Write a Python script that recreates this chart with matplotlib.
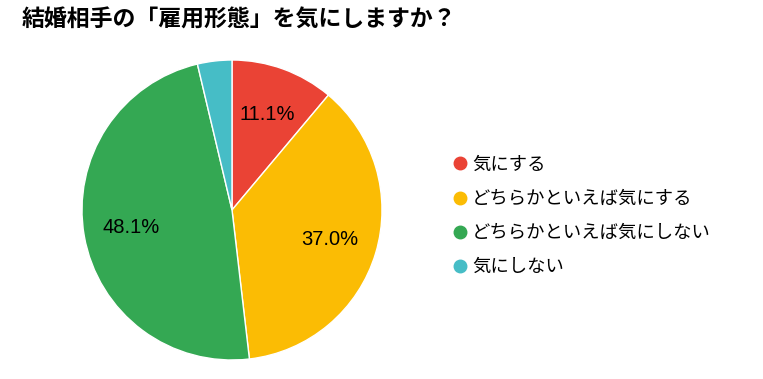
import matplotlib
matplotlib.use("Agg")
import matplotlib.pyplot as plt
from matplotlib.lines import Line2D

plt.rcParams['font.family'] = ['Noto Sans CJK JP', 'DejaVu Sans']

title = "結婚相手の「雇用形態」を気にしますか？"
categories = ["気にする", "どちらかといえば気にする", "どちらかといえば気にしない", "気にしない"]
values = [11.1, 37.0, 48.1, 3.7]
colors = ["#EA4335", "#FBBC04", "#34A853", "#46BDC6"]

fig = plt.figure(figsize=(7.63, 3.79), dpi=100)
ax = fig.add_axes([82/763, 19/379, 300/763, 300/379])

def fmt(p):
    return f"{p:.1f}%" if p > 5 else ""

wedges, texts, autotexts = ax.pie(
    values, colors=colors, startangle=90, counterclock=False,
    autopct=fmt, pctdistance=0.68, radius=1,
    wedgeprops=dict(edgecolor="white", linewidth=1),
    textprops=dict(fontsize=14.5, family=['Liberation Sans', 'DejaVu Sans'], color="black"))
ax.set_xlim(-1, 1)
ax.set_ylim(-1, 1)
ax.set_aspect('equal')
ax.axis('off')

fig.text(22/763, 1 - 20/379, title, fontsize=16.5, fontweight='bold', va='center', ha='left')

handles = [Line2D([0], [0], marker='o', linestyle='none', markersize=9,
                  markerfacecolor=c, markeredgecolor=c) for c in colors]
fig.legend(handles, categories, loc='center left', bbox_to_anchor=(442/763, 1 - 216/379),
           frameon=False, fontsize=13.2, handletextpad=0.05, labelspacing=0.88,
           handlelength=1.2, borderaxespad=0)

fig.savefig("out.png", dpi=100)
